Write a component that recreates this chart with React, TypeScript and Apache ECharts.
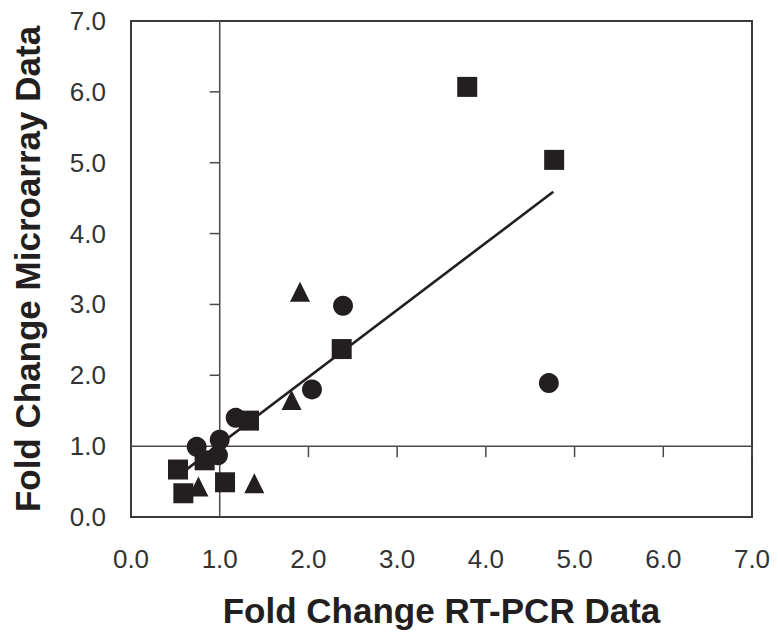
import React, { useEffect, useRef } from "react";
import * as echarts from "echarts";

const squareX = [0.53, 0.59, 1.06, 0.83, 1.33, 2.375, 3.79, 4.77];
const squareY = [0.67, 0.335, 0.49, 0.8, 1.36, 2.37, 6.07, 5.04];
const circleX = [0.74, 1.0, 0.98, 1.18, 2.04, 2.39, 4.71];
const circleY = [0.99, 1.09, 0.87, 1.4, 1.8, 2.98, 1.89];
const triangleX = [0.76, 1.39, 1.81, 1.905];
const triangleY = [0.43, 0.475, 1.65, 3.18];
const trendX = [0.53, 4.76];
const trendY = [0.58, 4.59];
const crossAt = [1, 1];
const crossTicks = [2, 3, 4, 5, 6, 7];
const yTickLabels = ["0.0", "1.0", "2.0", "3.0", "4.0", "5.0", "6.0", "7.0"];

const ink = "#231f20";
const axisInk = "#4a4a4a";
const labelInk = "#333";
const font = "'Liberation Sans', Arial, Helvetica, sans-serif";

function pairs(xs: number[], ys: number[]) {
  return xs.map((x, i) => [x, ys[i]]);
}

export default function App() {
  const ref = useRef<HTMLDivElement>(null);
  useEffect(() => {
    const chart = echarts.init(ref.current!, null, { renderer: "svg" });
    const lineStyle = { stroke: axisInk, lineWidth: 1.5 };
    chart.setOption({
      animation: false,
      backgroundColor: "#fff",
      grid: {
        left: 131,
        right: 26,
        top: 21,
        bottom: 120,
        show: true,
        borderColor: "#3a3a3a",
        borderWidth: 2,
        outerBoundsMode: "none",
      },
      xAxis: {
        type: "value",
        min: 0,
        max: 7,
        interval: 1,
        axisLine: { show: false },
        axisTick: { show: false },
        splitLine: { show: false },
        axisLabel: { color: labelInk, fontSize: 26, fontFamily: font, margin: 29, formatter: (v: number) => v.toFixed(1) },
        name: "Fold Change RT-PCR Data",
        nameLocation: "middle",
        nameGap: 76,
        nameTextStyle: { color: ink, fontSize: 35, fontWeight: "bold", fontFamily: font },
      },
      yAxis: {
        type: "value",
        min: 0,
        max: 7,
        interval: 1,
        axisLine: { show: false },
        axisTick: { show: false },
        splitLine: { show: false },
        axisLabel: { show: false },
        name: "Fold Change Microarray Data",
        nameLocation: "middle",
        nameGap: 86,
        nameTextStyle: { color: ink, fontSize: 35, fontWeight: "bold", fontFamily: font },
      },
      series: [
        {
          type: "custom",
          data: [crossAt],
          silent: true,
          clip: false,
          z: 1,
          renderItem: (params: any, api: any) => {
            const cx = api.value(0);
            const cy = api.value(1);
            const children: any[] = [];
            const v0 = api.coord([cx, 0]);
            const v1 = api.coord([cx, 7]);
            const h0 = api.coord([0, cy]);
            const h1 = api.coord([7, cy]);
            children.push({ type: "line", shape: { x1: v0[0], y1: v0[1], x2: v1[0], y2: v1[1] }, style: lineStyle });
            children.push({ type: "line", shape: { x1: h0[0], y1: h0[1], x2: h1[0], y2: h1[1] }, style: lineStyle });
            crossTicks.forEach((t) => {
              const px = api.coord([t, cy]);
              children.push({ type: "line", shape: { x1: px[0], y1: px[1], x2: px[0], y2: px[1] + 11 }, style: lineStyle });
              const py = api.coord([cx, t]);
              children.push({ type: "line", shape: { x1: py[0] - 10, y1: py[1], x2: py[0], y2: py[1] }, style: lineStyle });
            });
            yTickLabels.forEach((lab, i) => {
              const p = api.coord([0, i]);
              children.push({
                type: "text",
                x: p[0] - 25,
                y: p[1],
                style: {
                  text: lab,
                  fill: labelInk,
                  fontSize: 26,
                  fontFamily: font,
                  align: "right",
                  verticalAlign: "middle",
                },
              });
            });
            return { type: "group", children };
          },
        },
        {
          type: "line",
          data: pairs(trendX, trendY),
          symbol: "none",
          lineStyle: { color: ink, width: 2.6 },
          z: 2,
        },
        {
          type: "scatter",
          data: pairs(squareX, squareY),
          symbol: "rect",
          symbolSize: 20,
          itemStyle: { color: ink, opacity: 1 },
          z: 3,
        },
        {
          type: "scatter",
          data: pairs(circleX, circleY),
          symbol: "circle",
          symbolSize: 20,
          itemStyle: { color: ink, opacity: 1 },
          z: 3,
        },
        {
          type: "scatter",
          data: pairs(triangleX, triangleY),
          symbol: "triangle",
          symbolSize: 20,
          itemStyle: { color: ink, opacity: 1 },
          z: 3,
        },
      ],
    });
    return () => chart.dispose();
  }, []);
  return <div ref={ref} style={{ width: 778, height: 637, position: "absolute", left: 0, top: 0 }} />;
}
